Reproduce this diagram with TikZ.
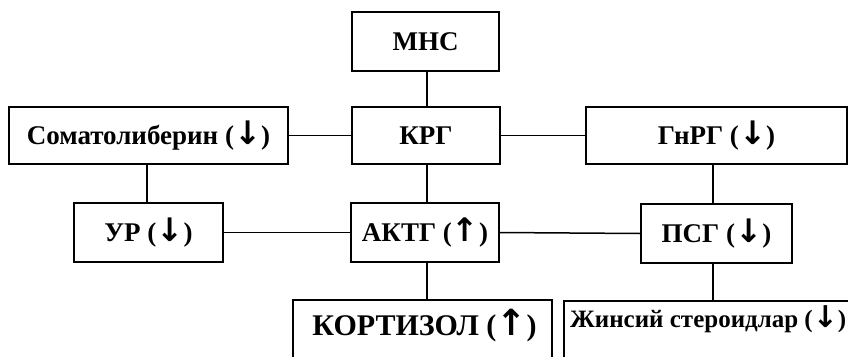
\documentclass[tikz,border=0pt]{standalone}
\usepackage{fontspec}
\setmainfont{Liberation Serif}
\newfontfamily\arrfont{DejaVu Sans}
\newcommand{\dnarr}{{\arrfont\fontsize{1.2em}{1.2em}\selectfont ↓}}
\newcommand{\uparr}{{\arrfont\fontsize{1.2em}{1.2em}\selectfont ↑}}
\begin{document}
\begin{tikzpicture}[x=1pt,y=-1pt,
  box/.style={draw,line width=1.8pt,rectangle,inner sep=0pt,align=center,
    font=\fontsize{27}{30}\selectfont\bfseries,text height=24pt,text depth=6pt},
  lbl/.style={inner sep=0pt,font=\fontsize{27}{30}\selectfont\bfseries,text height=24pt,text depth=6pt},
  conn/.style={line width=1.5pt}]
\useasboundingbox (0,0) rectangle (848,356);
\clip (0,0) rectangle (848,356);
\node[box,minimum width=147pt,minimum height=59pt] (mns) at (425.5,41.5) {МНС};
\node[box,minimum width=279pt,minimum height=57pt] (som) at (148.5,135.5) {Соматолиберин (\dnarr)};
\node[box,minimum width=148pt,minimum height=57pt] (krg) at (426,135.5) {КРГ};
\node[box,minimum width=261pt,minimum height=57pt] (gnrg) at (716.5,135.5) {ГнРГ (\dnarr)};
\node[box,minimum width=149pt,minimum height=59pt] (ur) at (148.5,232.5) {УР (\dnarr)};
\node[box,minimum width=148pt,minimum height=59pt] (aktg) at (425,232.5) {АКТГ (\uparr)};
\node[box,minimum width=151pt,minimum height=59pt] (psg) at (716.5,233.5) {ПСГ (\dnarr)};
\node[box,minimum width=259pt,minimum height=60pt] (kort) at (422.5,330) {};
\node[lbl,font=\fontsize{30}{32}\selectfont\bfseries,text height=26pt,text depth=6pt] (kortt) at (424.5,325) {КОРТИЗОЛ (\uparr)};
\node[box,minimum width=300pt,minimum height=60pt,anchor=north west] (jin) at (563,300) {};
\node[lbl,font=\fontsize{25}{28}\selectfont\bfseries,text height=22pt,text depth=5.5pt,anchor=west] (jint) at (570,319) {Жинсий стероидлар (\dnarr)};
\coordinate (xl) at (147,0);
\coordinate (xm) at (427,0);
\coordinate (xr) at (713,0);
\draw[conn] (mns.south -| xm) -- (krg.north -| xm);
\draw[conn] (krg.south -| xm) -- (aktg.north -| xm);
\draw[conn] (aktg.south -| xm) -- (kort.north -| xm);
\draw[conn] (som.south -| xl) -- (ur.north -| xl);
\draw[conn] (gnrg.south -| xr) -- (psg.north -| xr);
\draw[conn] (psg.south -| xr) -- (jin.north -| xr);
\draw[conn] (som.east) -- (krg.west);
\draw[conn] (krg.east) -- (gnrg.west);
\draw[conn] (ur.east) -- (aktg.west);
\draw[conn] (aktg.east) -- (psg.west);
\end{tikzpicture}
\end{document}
